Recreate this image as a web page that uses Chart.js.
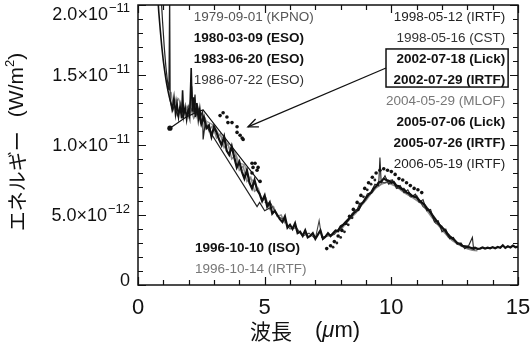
<!DOCTYPE html>
<html><head><meta charset="utf-8">
<script src="https://cdn.jsdelivr.net/npm/chart.js@4.4.1/dist/chart.umd.min.js"></script>
<style>html,body{margin:0;padding:0;background:#fff;}canvas{display:block;}</style>
</head><body>
<canvas id="c" width="530" height="347" style="width:530px;height:347px"></canvas>
<script>
// values in units of 1e-12 W/m^2 ; wavelength in µm
const UNIT_EXP = -12;
const xTickLabels = ["0", "5", "10", "15"];

const isoX = [2.4,2.5,2.6,2.7,2.8,2.9,3.0,3.1,3.2,3.3,3.4,3.5,3.6,3.7,3.8,3.9,4.0,4.1,4.2,4.3,4.4,4.5,4.6,4.7,4.8,4.9,
  5.0,5.1,5.2,5.3,5.4,5.5,5.6,5.7,5.8,5.9,6.0,6.1,6.2,6.3,6.4,6.5,6.6,6.7,6.8,6.9,7.0,7.1,7.2,7.3,7.4,7.5,7.6,7.7,7.8,7.9,
  8.0,8.1,8.2,8.3,8.4,8.5,8.6,8.7,8.8,8.9,9.0,9.1,9.2,9.3,9.4,9.5,9.6,9.7,9.8,9.9,10.0,10.1,10.2,10.3,10.4,10.5,10.6,10.7,10.8,10.9,
  11.0,11.1,11.2,11.3,11.4,11.5,11.6,11.7,11.8,11.9,12.0,12.1,12.2,12.3,12.4,12.5,12.6,12.7,12.8,12.9,13.0,13.1,13.2,13.3,13.4,13.5,
  13.6,13.7,13.8,13.9,14.0,14.1,14.2,14.3,14.4,14.5,14.6,14.7,14.8,14.9,15.0];
const isoY = [12.3,11.5,12.0,11.2,11.4,10.6,11.3,10.9,10.4,10.0,10.6,9.6,9.3,9.9,9.1,8.4,8.8,8.1,7.6,8.2,7.3,6.9,7.5,6.8,6.5,6.0,
  6.4,5.6,5.9,5.1,5.3,5.0,4.7,4.5,4.9,4.1,4.3,4.0,4.4,3.7,3.8,3.5,3.9,3.4,3.5,3.7,3.3,3.6,3.9,3.3,3.45,3.7,3.5,3.7,3.9,3.85,
  4.2,4.3,4.5,4.7,4.85,5.1,5.3,5.35,5.75,5.95,6.2,6.45,6.6,6.9,7.05,7.3,7.4,7.6,7.5,7.45,7.3,7.35,7.1,7.05,6.85,6.8,6.6,6.55,6.4,6.3,
  6.25,6.05,5.9,5.75,5.5,5.3,5.05,4.8,4.55,4.3,4.1,3.95,3.7,3.5,3.35,3.2,3.0,2.95,2.8,2.75,2.7,2.68,2.62,2.66,2.58,2.6,
  2.68,2.6,2.66,2.62,2.7,2.63,2.72,2.66,2.84,2.65,2.76,2.68,2.82,2.7,2.75];

const irtf96X = [7.6,7.8,8.0,8.2,8.4,8.6,8.8,9.0,9.2,9.4,9.6,9.8,10.0,10.2,10.4,10.6,10.8,11.0,11.2,11.4,11.6,11.8,12.0,12.2,12.4,12.6,12.8,13.0,13.2,13.4];
const irtf96Y = [3.5,3.75,3.95,4.4,4.8,5.15,5.65,6.05,6.55,6.95,7.2,7.35,7.2,7.05,6.75,6.5,6.3,6.05,5.8,5.35,4.85,4.4,3.95,3.55,3.2,2.95,2.75,2.6,2.5,2.45];

const kpnoX = [1.3,1.4,1.5,1.6,1.7,1.8,1.9,2.0,2.1,2.2,2.35,2.5,2.65,2.8,2.95,3.1,3.25,3.4,3.55,3.7,3.85,4.0,4.15,4.3,4.45,4.6,4.75,4.9,5.05,5.2,5.35,5.5,5.65,5.8];
const kpnoY = [13.8,12.6,13.3,12.2,12.9,12.1,12.7,12.0,12.5,11.9,12.3,11.6,11.9,11.0,11.4,10.5,10.8,9.8,10.1,9.0,9.3,8.2,8.5,7.4,7.7,6.7,6.9,6.0,6.2,5.4,5.6,4.9,5.0,4.4];

const eso80X = [0.75,0.82,0.88,0.94,1.0,1.06,1.12,1.18,1.24,1.3,1.36,1.42,1.48,1.54,1.6,1.66,1.72,1.76,1.8,1.86,1.92,1.98,2.04,2.1,2.14,2.2,2.26,2.32,2.38,2.44,2.5];
const eso80Y = [21.5,19.5,18.2,17.0,16.0,15.2,14.5,13.9,13.4,13.0,12.6,13.4,12.2,13.0,12.0,12.8,11.9,13.9,12.1,12.7,11.8,12.6,12.0,15.5,12.4,13.4,12.0,13.0,11.8,12.6,11.6];

const eso86X = [0.9,0.97,1.04,1.1,1.16,1.22,1.25,1.27,1.35,1.45,1.55,1.65,1.75,1.85,1.95,2.05,2.12,2.18,2.25,2.3,2.35,2.45,2.55,2.57,2.65,4.7,4.8,5.0,5.2];
const eso86Y = [21.0,18.8,16.9,15.6,14.6,13.9,21.0,13.2,12.4,12.9,12.1,12.6,12.0,12.5,12.1,12.7,14.2,12.3,13.6,12.2,12.8,12.0,12.4,10.4,11.5,5.6,5.9,5.3,5.5];

const eso83X = [1.26,1.9,2.4,2.57,4.82];
const eso83Y = [11.2,12.0,12.4,12.5,7.3];

const mlofX = [1.4,1.6,1.8,2.0,2.2,2.4,2.6,2.8,3.0,3.2,3.4,3.6,3.8,4.0,4.2,4.4,4.6,4.8];
const mlofY = [12.9,13.3,12.4,12.8,12.3,12.6,11.8,11.6,11.4,10.7,10.5,9.8,9.6,8.7,8.6,7.6,7.4,6.5];

const lick05X = [8.0,8.15,8.3,8.45,8.6,8.75,8.9,9.05,9.2,9.35,9.5,9.55,9.6,9.75,9.9,10.05,10.2,10.35,10.5,10.65,10.8,10.95,11.1,11.25,11.4,11.55,11.7,11.85,12.0,12.15,12.3,12.45,12.6,12.75,12.9,13.05,13.2,13.25];
const lick05Y = [4.0,4.4,4.6,5.1,5.2,5.8,5.9,6.5,6.6,7.2,7.1,9.1,7.3,7.8,7.2,7.5,6.9,7.1,6.6,6.8,6.3,6.5,5.9,6.1,5.3,5.4,4.5,4.6,3.8,4.0,3.3,3.4,2.9,3.0,2.6,2.8,3.4,2.5];

const irtf05X = [5.0,5.25,5.5,5.75,6.0,6.25,6.5,6.75,7.0,7.15,7.25,7.5,7.75,8.0,8.25,8.5,8.75,9.0,9.25,9.5,9.75,10.0,10.25,10.5,10.75,11.0,11.25,11.5,11.75,12.0,12.25,12.5,12.75,13.0,13.3];
const irtf05Y = [5.9,5.8,4.9,4.7,4.0,4.1,3.5,3.7,3.3,4.6,3.4,3.5,3.6,4.2,4.5,5.2,5.5,6.3,6.6,7.4,7.3,7.5,6.9,6.9,6.3,6.4,5.6,5.3,4.4,4.2,3.4,3.2,2.8,2.8,2.5];

// 2002 (Lick / IRTF) dotted observations
const dots02X = [3.24,3.36,3.51,3.55,3.71,3.91,3.91,4.03,4.11,4.15,4.5,4.62,4.54,4.7,4.5,4.74,4.82,
  7.45,7.6,7.75,7.9,8.05,8.2,8.35,8.5,8.65,8.8,8.95,9.1,9.25,9.4,9.55,9.7,9.85,10.0,10.15,10.3,10.45,10.6,10.75,10.9,11.05,11.2];
const dots02Y = [12.1,12.3,12.0,11.6,11.6,11.3,10.9,10.7,10.5,10.4,8.7,8.7,8.4,8.2,8.0,8.4,7.4,
  2.6,2.8,3.1,3.5,3.9,4.4,4.9,5.4,5.9,6.4,6.9,7.3,7.7,8.0,8.2,8.3,8.2,8.1,7.9,7.6,7.5,7.3,7.1,6.9,6.8,6.6];
// 1998-05-16 (CST) dotted
const cstX = [7.7,7.85,8.0,8.15,8.3,8.45,8.6,8.75,8.9,9.05,9.2,9.35];
const cstY = [2.7,3.0,3.4,3.8,4.3,4.8,5.3,5.8,6.3,6.8,7.2,7.5];

const legendLeft = [
  ["1979-09-01 (KPNO)", "#555", false],
  ["1980-03-09 (ESO)", "#111", true],
  ["1983-06-20 (ESO)", "#111", true],
  ["1986-07-22 (ESO)", "#333", false]
];
const legendRight = [
  ["1998-05-12 (IRTF)", "#222", false],
  ["1998-05-16 (CST)", "#333", false],
  ["2002-07-18 (Lick)", "#111", true],
  ["2002-07-29 (IRTF)", "#111", true],
  ["2004-05-29 (MLOF)", "#777", false],
  ["2005-07-06 (Lick)", "#111", true],
  ["2005-07-26 (IRTF)", "#111", true],
  ["2006-05-19 (IRTF)", "#222", false]
];
const legendBottom = [
  ["1996-10-10 (ISO)", "#111", true],
  ["1996-10-14 (IRTF)", "#777", false]
];

function pts(xs, ys) { return xs.map((x, i) => ({x: x, y: ys[i]})); }
function lineDs(label, xs, ys, color, w) {
  return {label, data: pts(xs, ys), showLine: true, borderColor: color, borderWidth: w,
    pointRadius: 0, pointHoverRadius: 0, tension: 0};
}
function dotDs(label, xs, ys, color, r) {
  return {label, data: pts(xs, ys), showLine: false, pointRadius: r, pointBackgroundColor: color,
    pointBorderWidth: 0, pointHoverRadius: 0};
}

const datasets = [
  dotDs("2002 dots", dots02X, dots02Y, "#111", 1.8),
  dotDs("CST", cstX, cstY, "#222", 1.4),
  Object.assign(lineDs("1983-06-20 (ESO)", eso83X, eso83Y, "#111", 1.2),
    {pointRadius: [2.6, 0, 0, 0, 0], pointBackgroundColor: "#111", pointBorderWidth: 0}),
  lineDs("1996-10-10 (ISO)", isoX, isoY, "#111", 2.2),
  lineDs("1980-03-09 (ESO)", eso80X, eso80Y, "#111", 1.6),
  lineDs("1986-07-22 (ESO)", eso86X, eso86Y, "#222", 1.2),
  lineDs("2005-07-06 (Lick)", lick05X, lick05Y, "#222", 1.1),
  lineDs("2005-07-26 (IRTF)", irtf05X, irtf05Y, "#444", 1.1),
  lineDs("1996-10-14 (IRTF)", irtf96X, irtf96Y, "#8a8a8a", 1.8),
  lineDs("1979-09-01 (KPNO)", kpnoX, kpnoY, "#888", 1.5),
  lineDs("2004-05-29 (MLOF)", mlofX, mlofY, "#9a9a9a", 1.5)
];

const SANS = '"Liberation Sans", Arial, Helvetica, sans-serif';
const CJK = '"Noto Sans CJK JP", "Noto Sans CJK SC", sans-serif';
const SUP = {"-": "\u2212", "0": "0", "1": "1", "2": "2"};

const decor = {
  id: 'decor',
  afterDatasetsDraw(chart) {
    const c = chart.ctx, a = chart.chartArea, xs = chart.scales.x, ys = chart.scales.y;
    c.save();
    // frame
    c.strokeStyle = "#111"; c.lineWidth = 1.5;
    c.strokeRect(a.left, a.top, a.right - a.left, a.bottom - a.top);
    // ticks (inward, all four sides)
    c.lineWidth = 1.2;
    c.beginPath();
    xs.ticks.forEach(t => {
      const px = Math.round(xs.getPixelForValue(t.value)) + 0.5;
      const len = (t.value % 5 === 0) ? 8 : 5;
      c.moveTo(px, a.bottom); c.lineTo(px, a.bottom - len);
      c.moveTo(px, a.top); c.lineTo(px, a.top + len);
    });
    ys.ticks.forEach(t => {
      const py = Math.round(ys.getPixelForValue(t.value)) + 0.5;
      const len = (t.value % 5 === 0) ? 8 : 5;
      c.moveTo(a.left, py); c.lineTo(a.left + len, py);
      c.moveTo(a.right, py); c.lineTo(a.right - len, py);
    });
    c.stroke();

    // y tick labels with superscript exponent
    c.fillStyle = "#111"; c.textBaseline = "middle";
    ys.ticks.forEach(t => {
      if (t.value % 5 !== 0) return;
      let py = ys.getPixelForValue(t.value) + 1.5;
      py = Math.min(Math.max(py, a.top + 10), a.bottom - 4);
      const rx = a.left - 8;
      if (t.value === 0) {
        c.font = "18px " + SANS; c.textAlign = "right"; c.fillText("0", rx, py); return;
      }
      const real = t.value * Math.pow(10, UNIT_EXP);
      const e = Math.floor(Math.log10(real) + 1e-9);
      const mant = (real / Math.pow(10, e)).toFixed(1);
      const expStr = String(e).split("").map(ch => SUP[ch] || ch).join("");
      c.textAlign = "right";
      c.font = "13px " + SANS;
      c.fillText(expStr, rx, py - 7);
      const ew = c.measureText(expStr).width;
      c.font = "18px " + SANS;
      c.fillText(mant + "\u00d710", rx - ew - 1, py);
    });

    // x tick labels
    c.font = "22px " + SANS; c.textAlign = "center";
    xs.ticks.forEach(t => {
      if (t.value % 5 !== 0) return;
      c.fillText(xTickLabels[t.value / 5], xs.getPixelForValue(t.value), a.bottom + 23);
    });

    // x title: 波長  (µm)
    let tx = a.left + 112, ty = a.bottom + 46;
    c.textAlign = "left";
    c.font = "21px " + CJK; c.fillText("波長", tx, ty); tx += c.measureText("波長").width + 23;
    c.font = "22px " + SANS; c.fillText("(", tx, ty); tx += c.measureText("(").width;
    c.font = "italic 22px " + SANS; c.fillText("\u03bc", tx, ty); tx += c.measureText("\u03bc").width;
    c.font = "22px " + SANS; c.fillText("m)", tx, ty);

    // y title rotated: エネルギー  (W/m²)
    c.save();
    c.translate(17, (a.top + a.bottom) / 2 - 3);
    c.rotate(-Math.PI / 2);
    const parts = [["エネルギー", "20px " + CJK], ["\u3000", "14px " + CJK], ["(W/m", "21px " + SANS], ["2", "13px " + SANS], [")", "21px " + SANS]];
    let tot = 0;
    parts.forEach(p => { c.font = p[1]; tot += c.measureText(p[0]).width; });
    let cx = -tot / 2;
    parts.forEach(p => {
      c.font = p[1];
      c.fillText(p[0], cx, p[0] === "2" ? -7 : 0);
      cx += c.measureText(p[0]).width;
    });
    c.restore();

    // legend texts
    const rowY = i => ys.getPixelForValue(19.1 - i * 1.5);
    legendLeft.forEach((r, i) => {
      c.font = (r[2] ? "bold " : "") + "13.5px " + SANS; c.fillStyle = r[1]; c.textAlign = "left";
      c.fillText(r[0], xs.getPixelForValue(2.2), rowY(i));
    });
    legendRight.forEach((r, i) => {
      c.font = (r[2] ? "bold " : "") + "13.5px " + SANS; c.fillStyle = r[1]; c.textAlign = "right";
      c.fillText(r[0], xs.getPixelForValue(14.5), rowY(i));
    });
    legendBottom.forEach((r, i) => {
      c.font = (r[2] ? "bold " : "") + "13.5px " + SANS; c.fillStyle = r[1]; c.textAlign = "left";
      c.fillText(r[0], xs.getPixelForValue(2.25), ys.getPixelForValue(2.65 - i * 1.5));
    });

    // box around 2002 entries and arrow
    const bx0 = xs.getPixelForValue(9.79), bx1 = xs.getPixelForValue(14.61);
    const by0 = ys.getPixelForValue(16.86), by1 = ys.getPixelForValue(14.14);
    c.strokeStyle = "#111"; c.lineWidth = 1.5;
    c.strokeRect(bx0, by0, bx1 - bx0, by1 - by0);
    const ax0 = bx0, ay0 = (by0 + by1) / 2;
    const ax1 = xs.getPixelForValue(4.34), ay1 = ys.getPixelForValue(11.29);
    c.lineWidth = 1.3;
    c.beginPath(); c.moveTo(ax0, ay0); c.lineTo(ax1, ay1); c.stroke();
    const ang = Math.atan2(ay1 - ay0, ax1 - ax0), L = 11;
    c.beginPath();
    c.moveTo(ax1 - L * Math.cos(ang - 0.4), ay1 - L * Math.sin(ang - 0.4));
    c.lineTo(ax1, ay1);
    c.lineTo(ax1 - L * Math.cos(ang + 0.4), ay1 - L * Math.sin(ang + 0.4));
    c.stroke();
    c.restore();
  }
};

new Chart(document.getElementById("c"), {
  type: "scatter",
  data: {datasets},
  options: {
    responsive: false, animation: false, events: [],
    layout: {padding: {left: 0, right: 12, top: 5, bottom: 0}},
    plugins: {legend: {display: false}, tooltip: {enabled: false}},
    scales: {
      x: {type: "linear", min: 0, max: 15, ticks: {display: false, stepSize: 1},
          grid: {display: false}, border: {display: false}, afterFit(s) { s.height = 62; }},
      y: {type: "linear", min: 0, max: 20, ticks: {display: false, stepSize: 1},
          grid: {display: false}, border: {display: false}, afterFit(s) { s.width = 138; }}
    }
  },
  plugins: [decor]
});
</script>
</body></html>
